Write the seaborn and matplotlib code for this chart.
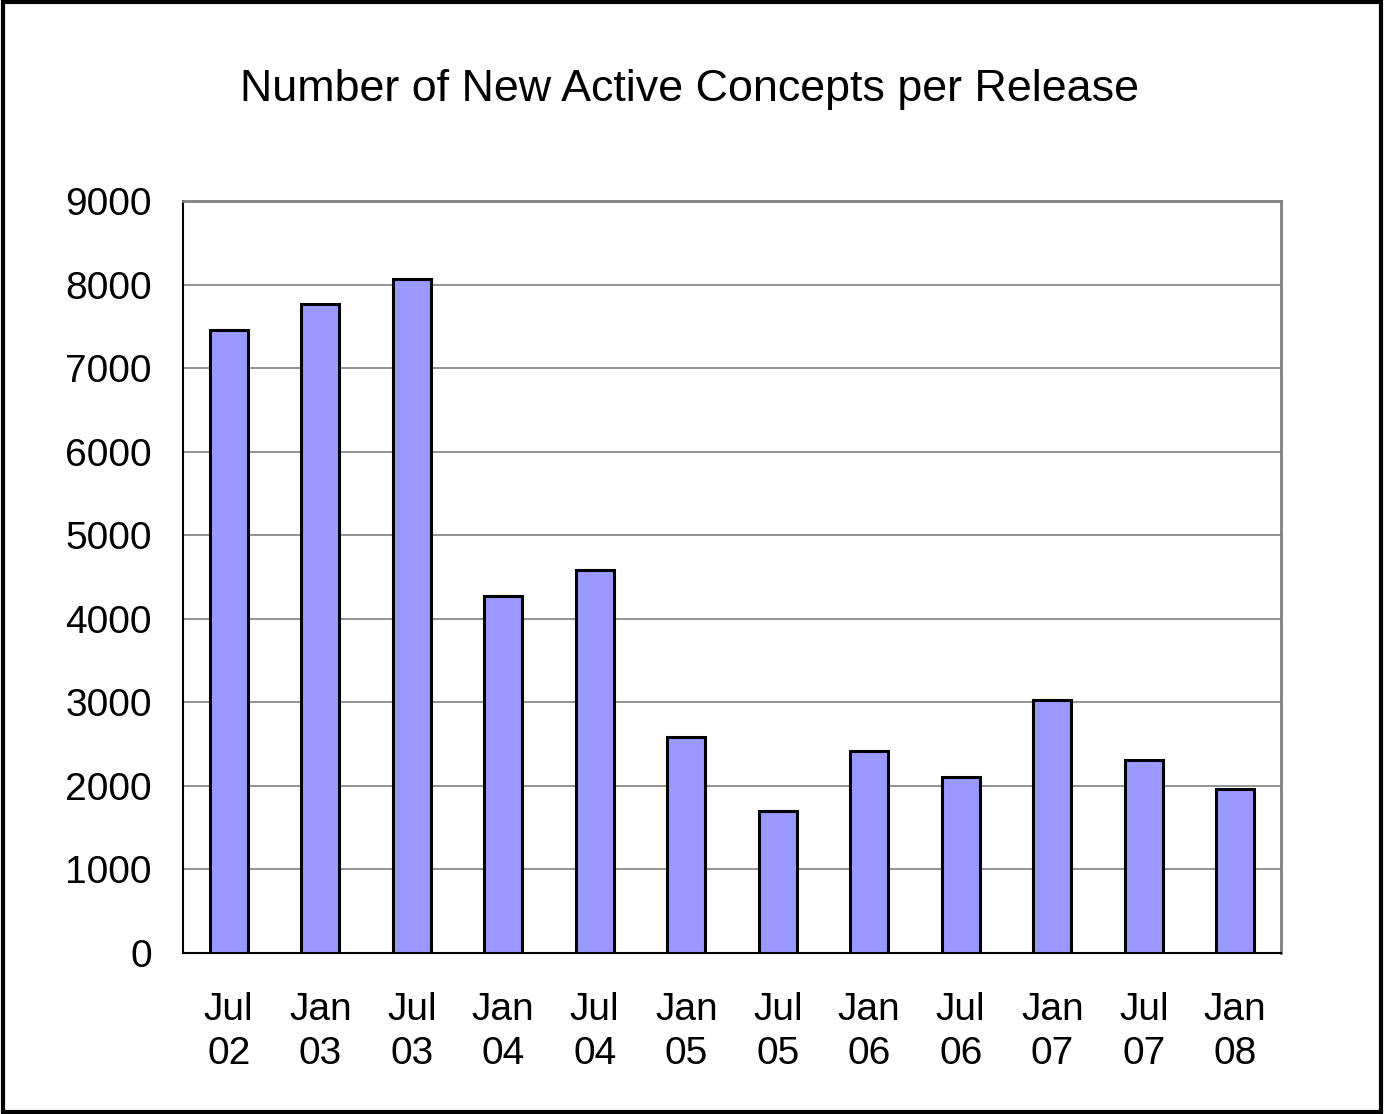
import matplotlib
matplotlib.use("Agg")
import matplotlib.pyplot as plt
import seaborn as sns
import pandas as pd
from matplotlib.patches import Rectangle

releases = ["Jul\n02", "Jan\n03", "Jul\n03", "Jan\n04", "Jul\n04", "Jan\n05",
            "Jul\n05", "Jan\n06", "Jul\n06", "Jan\n07", "Jul\n07", "Jan\n08"]
new_concepts = [7460, 7765, 8065, 4270, 4580, 2590, 1700, 2415, 2110, 3030, 2315, 1965]
y_ticks = [0, 1000, 2000, 3000, 4000, 5000, 6000, 7000, 8000, 9000]

sns.set_theme(style="white")
plt.rcParams["font.family"] = ["Liberation Sans", "DejaVu Sans"]

df = pd.DataFrame({"release": releases, "count": new_concepts})

fig = plt.figure(figsize=(13.84, 11.14), dpi=100)
ax = fig.add_axes([183 / 1384, 1 - 953 / 1114, (1281 - 183) / 1384, (953 - 201) / 1114])

sns.barplot(data=df, x="release", y="count", ax=ax, color="#9999FF",
            saturation=1, width=0.42, edgecolor="black", linewidth=2.2, zorder=3)

ax.set_xlim(-0.5, len(releases) - 0.5)
ax.set_ylim(0, 9000)
ax.set_yticks(y_ticks)
ax.set_yticklabels([str(v) for v in y_ticks], fontsize=28)
ax.yaxis.grid(True, color="#808080", linewidth=1.2, zorder=0)
ax.set_axisbelow(True)
ax.set_xlabel("")
ax.set_ylabel("")

# category labels centred under bars, ticks at category boundaries
ax.set_xticks(range(len(releases)))
ax.set_xticklabels(releases, fontsize=28, linespacing=1.28)
ax.tick_params(axis="x", which="major", length=0, pad=28)
ax.set_xticks([i - 0.5 for i in range(len(releases) + 1)], minor=True)
ax.tick_params(axis="x", which="minor", length=10, width=1, color="#808080", direction="out")
ax.tick_params(axis="y", length=10, width=1, color="#808080", direction="out", pad=12.5)
ax.tick_params(axis="both", labelcolor="black")

for side in ["top", "right"]:
    ax.spines[side].set_color("#808080")
    ax.spines[side].set_linewidth(2)
ax.spines["left"].set_color("black")
ax.spines["left"].set_linewidth(1.5)
ax.spines["bottom"].set_color("black")
ax.spines["bottom"].set_linewidth(1.5)

fig.text(690 / 1384, 1 - 90 / 1114, "Number of New Active Concepts per Release",
         ha="center", va="center", fontsize=32.3, color="black")

# outer frame of the figure
fig.patches.append(Rectangle((0.002, 0.002), 0.996, 0.996, transform=fig.transFigure,
                             fill=False, edgecolor="black", linewidth=3))

fig.savefig("out.png", dpi=100)
